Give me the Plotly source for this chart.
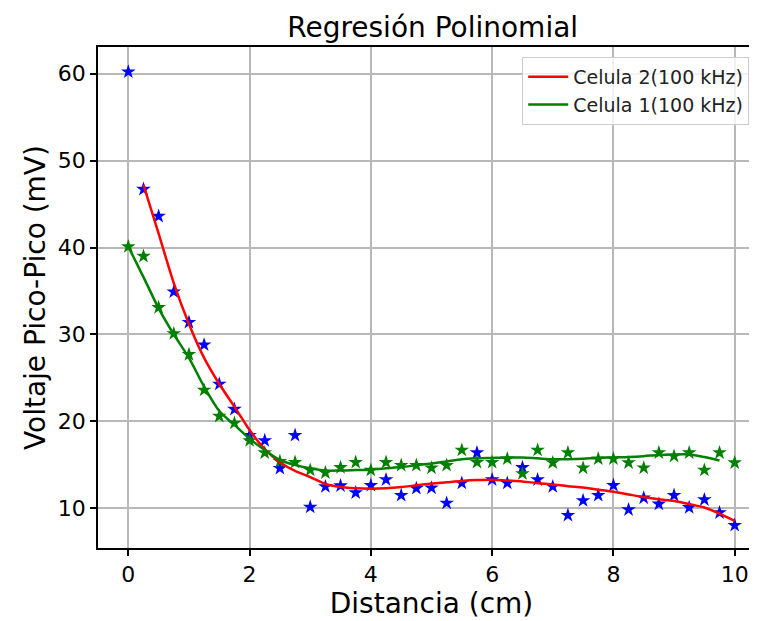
import plotly.graph_objects as go

# Distancia (cm) de cada medida
distancia = [0.0, 0.25, 0.5, 0.75, 1.0, 1.25, 1.5, 1.75, 2.0, 2.25, 2.5, 2.75, 3.0, 3.25,
             3.5, 3.75, 4.0, 4.25, 4.5, 4.75, 5.0, 5.25, 5.5, 5.75, 6.0, 6.25, 6.5, 6.75,
             7.0, 7.25, 7.5, 7.75, 8.0, 8.25, 8.5, 8.75, 9.0, 9.25, 9.5, 9.75, 10.0]

# Medidas (mV)
celula2 = [60.2, 46.7, 43.6, 34.9, 31.4, 28.8, 24.3, 21.4, 18.4, 17.8, 14.6, 18.4, 10.15, 12.5,
           12.6, 11.8, 12.65, 13.3, 11.5, 12.3, 12.35, 10.6, 12.9, 16.4, 13.3, 12.9, 14.7, 13.3,
           12.5, 9.2, 10.9, 11.5, 12.65, 9.85, 11.2, 10.5, 11.5, 10.1, 11.0, 9.5, 8.05]
celula1 = [40.1, 39.0, 33.1, 30.1, 27.7, 23.6, 20.6, 19.8, 17.8, 16.4, 15.4, 15.3, 14.4, 14.1,
           14.7, 15.3, 14.4, 15.3, 14.95, 14.95, 14.65, 14.95, 16.7, 15.3, 15.3, 15.7, 14.0, 16.7,
           15.25, 16.4, 14.65, 15.7, 15.7, 15.25, 14.65, 16.4, 16.0, 16.4, 14.4, 16.4, 15.25]

# Curvas de regresion
x_fit2 = distancia[1:]
fit2 = [47.2, 41.6, 35.9, 31.2, 27.3, 24.3, 21.7, 19.0, 16.8, 15.3, 14.3, 13.6, 12.8,
        12.45, 12.3, 12.25, 12.3, 12.45, 12.65, 12.85, 13.0, 13.15, 13.25, 13.3, 13.2, 13.1,
        12.9, 12.75, 12.55, 12.4, 12.15, 11.9, 11.6, 11.3, 11.05, 10.85, 10.5, 10.1, 9.4, 8.55]
x_fit1 = distancia[:-1]
fit1 = [40.1, 36.6, 33.0, 30.0, 27.3, 24.0, 21.2, 19.6, 18.0, 16.7, 15.55, 15.0, 14.6, 14.35,
        14.35, 14.4, 14.45, 14.6, 14.75, 14.95, 15.15, 15.4, 15.65, 15.75, 15.8, 15.85, 15.85,
        15.75, 15.65, 15.65, 15.7, 15.8, 15.85, 15.9, 16.0, 16.15, 16.2, 16.2, 15.9, 15.5]

font = "DejaVu Sans, sans-serif"

fig = go.Figure()
fig.add_trace(go.Scatter(x=distancia, y=celula2, mode="markers", showlegend=False,
                         marker=dict(symbol="star", size=11, color="#0000ff", line=dict(width=0))))
fig.add_trace(go.Scatter(x=distancia, y=celula1, mode="markers", showlegend=False,
                         marker=dict(symbol="star", size=11, color="#008000", line=dict(width=0))))
fig.add_trace(go.Scatter(x=x_fit2, y=fit2, mode="lines", name="Celula 2(100 kHz)",
                         line=dict(color="#ff0000", width=2.5, shape="spline", smoothing=0.8)))
fig.add_trace(go.Scatter(x=x_fit1, y=fit1, mode="lines", name="Celula 1(100 kHz)",
                         line=dict(color="#008000", width=2.5, shape="spline", smoothing=0.8)))

axis_style = dict(showgrid=True, gridcolor="#b8b8b8", gridwidth=1.5, zeroline=False,
                  showline=True, linecolor="black", linewidth=1.5, automargin=False,
                  ticks="outside", ticklen=6, tickwidth=1.5, tickcolor="black",
                  tickfont=dict(family=font, size=22, color="black"))

# la pagina tiene 8 px de margen, se compensa en los margenes
fig.update_layout(
    width=757, height=621,
    margin=dict(l=90, r=0, t=39, b=81),
    paper_bgcolor="white", plot_bgcolor="white",
    title=dict(text="Regresión Polinomial", x=0.561, xanchor="center",
               yref="container", y=0.985, yanchor="top",
               font=dict(family=font, size=28, color="black")),
    xaxis=dict(range=[-0.5, 10.5], tickvals=[0, 2, 4, 6, 8, 10], mirror=True,
               title=dict(text="Distancia (cm)", font=dict(family=font, size=28, color="black"),
                          standoff=4),
               **axis_style),
    yaxis=dict(range=[5.44, 63.06], tickvals=[10, 20, 30, 40, 50, 60],
               title=dict(text="Voltaje Pico-Pico (mV)", font=dict(family=font, size=28, color="black"),
                          standoff=4),
               **axis_style),
    legend=dict(x=0.636, xanchor="left", y=0.98, yanchor="top",
                bgcolor="rgba(255,255,255,0.8)", bordercolor="#cccccc", borderwidth=1,
                font=dict(family=font, size=19, color="#222222"), itemwidth=40,
                tracegroupgap=0),
)

fig.write_html("out.html")
